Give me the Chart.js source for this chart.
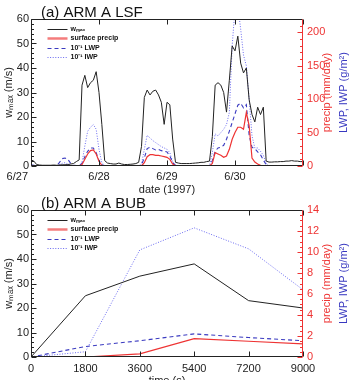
<!DOCTYPE html>
<html><head><meta charset="utf-8">
<script src="https://cdn.jsdelivr.net/npm/chart.js@4.4.0/dist/chart.umd.min.js"></script>
<style>
html,body{margin:0;padding:0;background:#fff;width:352px;height:380px;overflow:hidden;position:relative}
#c1{position:absolute;left:0;top:0}
#c2{position:absolute;left:0;top:185px}
</style></head><body>
<canvas id="c1" width="352" height="200"></canvas>
<canvas id="c2" width="352" height="195"></canvas>
<script>
// ---------- (a) ARM A LSF : hourly values, 6/27 00h .. 7/1 00h ----------
const dateLabels = ['6/27','6/28','6/29','6/30'];
const dateTickHours = [0,24,48,72,96];
const lsfWmax = [2.5,2.0,0.6,0.4,0.3,0.3,0.3,0.3,0.4,0.3,0.4,0.5,0.5,0.6,0.8,1.0,1.8,2.5,
  33,37,32,34,35,38.5,30,17,2.2,1.2,1.0,0.8,0.8,1.2,0.8,0.6,0.6,0.7,0.8,1.0,1.5,
  8,28,31,29,30.5,31,29,26,17,26,25,11,1.5,1.2,1.0,1.0,1.0,1.0,1.1,1.2,1.3,1.5,1.5,1.8,2.0,
  12,33,34,33,30,22,35,49,47,53,42,38,40,27,21,18,24,21,24,2,
  1.6,1.6,1.7,1.7,1.8,1.8,2.0,2.0,2.2,2.0,2.0,1.8,1.8];
const lsfPrecip = [0,0,0,0,0,0,0,0,0,0,0,0,0,0,0,0,0,0,
  2,10,18,23,24,18,7,1,0,0,0,0,0,0,0,0,0,0,0,0,0,
  0,5,14,17,17,16,16,15,14,13,10,3,0.5,0,0,0,0,0,0,0,0,0,0,0,0,
  4,20,18,16,13,15,25,40,50,58,58,55,80,60,12,6,3,1,0,0,
  0,0,0,0,0,0,0,0,0,0,0,0,0];
const lsfLwp = [2,1,0,0,0,0,0,0,0,0,5,11,12,10,4,1,0.5,0.5,
  4,14,22,27,27,20,8,2,0,0,0,0,0,0,0,0,0,0,0,0,0,
  2,12,26,28,26,24,25,23,22,21,15,5,1,0,0,0,0,0,0,0,0,0,0,0,0,
  8,22,27,28,31,40,52,65,78,91,94,87,92,46,28,26,21,17,9,2,
  0,0,0,0,0,0,0,0,0,0,0,0,0];
const lsfIwp = [0,0,0,0,0,0,0,0,0,0,2,4,5,3,1,0,0,0,
  5,30,52,58,62,55,25,5,1,0,0,0,0,0,0,0,0,0,0,0,0,
  3,25,46,42,38,35,32,29,27,25,20,6,1,0,0,0,0,0,0,0,0,0,0,0,0,
  20,48,45,50,55,62,80,180,235,240,205,166,150,100,45,27,27,22,16,4,
  0,0,0,0,0,0,0,0,0,0,0,0,0];

// ---------- (b) ARM A BUB ----------
const bubTime   = [0,1800,3600,5400,7200,9000];
const bubWmax   = [0,25,33,38,23,20];
const bubPrecip = [0,0,0.3,1.75,1.5,1.25];
const bubLwp    = [0,1.0,1.55,2.2,1.85,1.55];
const bubIwp    = [0,0.5,10.2,12.3,10.3,6.4];

const FONT = '"Liberation Sans", Arial, Helvetica, sans-serif';
Chart.defaults.font.family = FONT;
const AX = '#222', RED = '#ee3333', LWPC = '#3a3ac0', IWPC = '#6a6af0', BLUET = '#3838c0';

function pts(xs, ys){ return ys.map((v,i)=>({x:xs[i], y:v})); }
const hours = lsfWmax.map((_, i) => i);

function datasets(xs, w, p, l, iw){
  return [
    {label:'wₘₐₓ', data:pts(xs,w), yAxisID:'y', borderColor:AX, borderWidth:1, legendColor:AX, legendWidth:1},
    {label:'surface precip', data:pts(xs,p), yAxisID:'y2', borderColor:RED, borderWidth:1.2, legendColor:'rgba(240,80,80,0.75)', legendWidth:2.5},
    {label:'10⁻¹ LWP', data:pts(xs,l), yAxisID:'y2', borderColor:LWPC, borderWidth:1.1, borderDash:[4,3], legendColor:LWPC, legendWidth:1.1},
    {label:'10⁻¹ IWP', data:pts(xs,iw), yAxisID:'y2', borderColor:IWPC, borderWidth:1, borderDash:[1,1.6], legendColor:IWPC, legendWidth:1}
  ].map(d=>Object.assign(d,{pointRadius:0, tension:0, fill:false}));
}

function makeDecor(cfg){
  return {
    id:'decor',
    afterDraw(chart){
      const ctx = chart.ctx, a = chart.chartArea;
      const L = Math.round(a.left)+0.5, R = Math.round(a.right)-0.5, T = Math.round(a.top)+0.5, B = Math.round(a.bottom)-0.5;
      const sx = chart.scales.x, sy = chart.scales.y, sr = chart.scales.y2;
      ctx.save();
      ctx.lineWidth = 1; ctx.setLineDash([]);
      const seg=(x1,y1,x2,y2,c)=>{ctx.strokeStyle=c;ctx.beginPath();ctx.moveTo(x1,y1);ctx.lineTo(x2,y2);ctx.stroke();};
      const isMul=(v,s)=>Math.abs(v/s-Math.round(v/s))<1e-6;
      let n = Math.round((sy.max-sy.min)/cfg.yMinor);
      for(let i=0;i<=n;i++){const v=sy.min+i*cfg.yMinor;const y=Math.round(sy.getPixelForValue(v))+0.5;seg(L,y,L+(isMul(v,cfg.yMajor)?5:2.5),y,AX);}
      n = Math.round((sr.max-sr.min)/cfg.rMinor);
      for(let i=0;i<=n;i++){const v=sr.min+i*cfg.rMinor;const y=Math.round(sr.getPixelForValue(v))+0.5;seg(R,y,R-(isMul(v,cfg.rMajor)?5:2.5),y,RED);}
      for(const v of cfg.xTicks){const x=Math.round(sx.getPixelForValue(v))+0.5;seg(x,B,x,B-5,AX);seg(x,T,x,T+5,AX);}
      seg(L,T,R,T,AX); seg(L,T,L,B,AX); seg(L,B,R,B,AX); seg(R,T,R,B+0.5,RED);
      ctx.fillStyle='#111'; ctx.font='15px '+FONT; ctx.textAlign='left'; ctx.textBaseline='alphabetic';
      ctx.fillText(cfg.title, 41, T-3);
      const midY=(T+B)/2;
      const vtext=(txt,x,color)=>{ctx.save();ctx.translate(x,midY);ctx.rotate(-Math.PI/2);ctx.fillStyle=color;ctx.font='11px '+FONT;ctx.textAlign='center';ctx.textBaseline='middle';ctx.fillText(txt,0,0);ctx.restore();};
      vtext('wₘₐₓ (m/s)', 9, AX);
      vtext('precip (mm/day)', 327, RED);
      vtext('LWP, IWP (g/m²)', 344, BLUET);
      ctx.fillStyle=AX; ctx.font='11px '+FONT; ctx.textAlign='center'; ctx.textBaseline='alphabetic';
      ctx.fillText(cfg.xTitle, (L+R)/2, cfg.xTitleY);
      if(cfg.xLabels){
        ctx.textBaseline='middle';
        cfg.xLabels.forEach((t,i)=>{const x=sx.getPixelForValue(cfg.xLabelVals[i]);
          if(i===0){ctx.textAlign='right';ctx.fillText(t,x-3,cfg.xLabelY);} else {ctx.textAlign='center';ctx.fillText(t,x,cfg.xLabelY);} });
      }
      chart.data.datasets.forEach((ds,i)=>{
        const y=Math.round(T+9.5+i*9.4)+0.5;
        ctx.strokeStyle=ds.legendColor; ctx.lineWidth=ds.legendWidth; ctx.setLineDash(ds.borderDash||[]);
        ctx.beginPath(); ctx.moveTo(L+16,y); ctx.lineTo(L+36,y); ctx.stroke();
        ctx.setLineDash([]);
        ctx.fillStyle='#111'; ctx.font='bold 7px '+FONT; ctx.textAlign='left'; ctx.textBaseline='middle';
        ctx.fillText(ds.label, L+39, y);
      });
      ctx.restore();
    }
  };
}

function baseScales(o){
  return {
    x:{type:'linear',min:o.xmin,max:o.xmax,
       grid:{display:false,drawTicks:false},border:{display:false},
       ticks:o.xticks, afterFit:s=>{s.height=o.xh;}},
    y:{position:'left',min:0,max:60,
       ticks:{stepSize:10,padding:2,color:AX,font:{size:11}},
       grid:{display:false,drawTicks:false},border:{display:false},afterFit:s=>{s.width=31;}},
    y2:{position:'right',min:0,max:o.rmax,
       ticks:{stepSize:o.rstep,includeBounds:false,padding:4,color:RED,font:{size:11}},
       grid:{display:false,drawTicks:false},border:{display:false},afterFit:s=>{s.width=49;}}
  };
}

new Chart(document.getElementById('c1'),{
  type:'line',
  data:{datasets:datasets(hours,lsfWmax,lsfPrecip,lsfLwp,lsfIwp)},
  options:{responsive:false,animation:false,devicePixelRatio:1,
    layout:{padding:{top:19,left:0,right:0,bottom:0}},
    plugins:{legend:{display:false},tooltip:{enabled:false}},
    scales:baseScales({xmin:0,xmax:96,xh:34,rmax:220,rstep:50,xticks:{display:false}})},
  plugins:[makeDecor({title:'(a) ARM A LSF',yMajor:10,yMinor:2,rMajor:50,rMinor:10,xTicks:dateTickHours,
    xTitle:'date (1997)',xTitleY:193,xLabels:dateLabels,xLabelVals:dateTickHours,xLabelY:177})]
});

new Chart(document.getElementById('c2'),{
  type:'line',
  data:{datasets:datasets(bubTime,bubWmax,bubPrecip,bubLwp,bubIwp)},
  options:{responsive:false,animation:false,devicePixelRatio:1,
    layout:{padding:{top:25,left:0,right:0,bottom:0}},
    plugins:{legend:{display:false},tooltip:{enabled:false}},
    scales:baseScales({xmin:0,xmax:9000,xh:23,rmax:14,rstep:2,
      xticks:{stepSize:1800,autoSkip:false,maxRotation:0,padding:5,color:AX,font:{size:11},
              callback:(v)=>String(v)}})},
  plugins:[makeDecor({title:'(b) ARM A BUB',yMajor:10,yMinor:2,rMajor:2,rMinor:0.5,xTicks:bubTime,
    xTitle:'time (s)',xTitleY:199})]
});
</script>
</body></html>
